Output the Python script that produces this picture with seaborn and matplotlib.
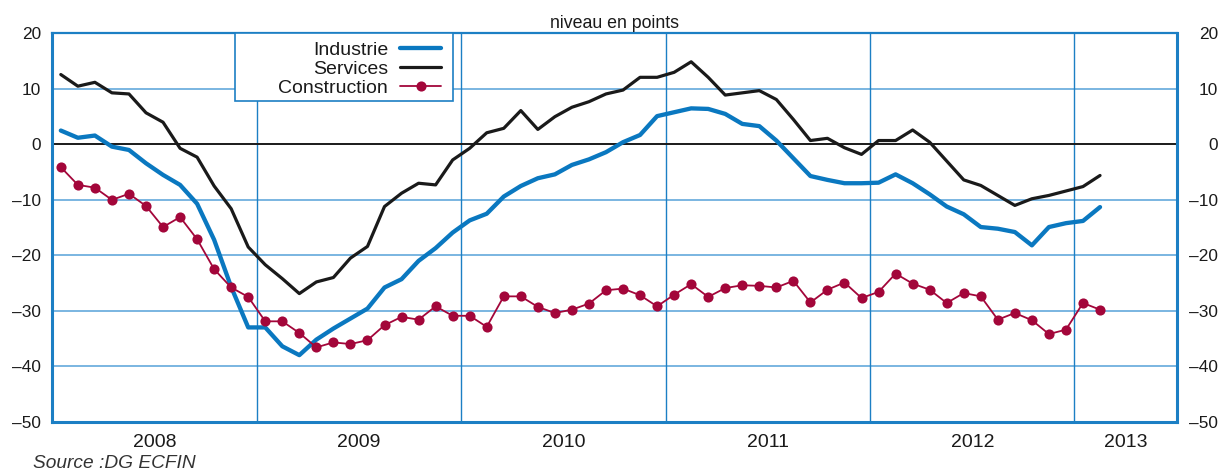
import numpy as np
import pandas as pd
import matplotlib
matplotlib.use("Agg")
import matplotlib.pyplot as plt
import seaborn as sns
from matplotlib.lines import Line2D
from matplotlib.patches import Rectangle
from matplotlib.transforms import ScaledTranslation

# ---- data (monthly, Jan 2008 .. Feb 2013) ----
start_year = 2008
n_months = 62
industrie = [2.5, 1.2, 1.6, -0.4, -1.0, -3.4, -5.5, -7.3, -10.7, -17.2, -25.7, -33.0,
             -33.0, -36.4, -38.0, -35.2, -33.2, -31.4, -29.6, -25.8, -24.3, -21.0, -18.7, -15.9,
             -13.7, -12.5, -9.4, -7.5, -6.1, -5.4, -3.7, -2.7, -1.4, 0.4, 1.7, 5.1,
             5.8, 6.5, 6.4, 5.5, 3.7, 3.3, 0.7, -2.5, -5.7, -6.4, -7.0, -7.0,
             -6.9, -5.4, -7.0, -9.0, -11.2, -12.6, -14.9, -15.2, -15.8, -18.2, -14.9, -14.2,
             -13.8, -11.3]
services = [12.6, 10.5, 11.2, 9.3, 9.1, 5.7, 4.0, -0.7, -2.3, -7.5, -11.6, -18.5,
            -21.7, -24.2, -26.9, -24.8, -24.0, -20.5, -18.4, -11.2, -8.8, -7.0, -7.3, -2.8,
            -0.7, 2.1, 2.9, 6.1, 2.7, 5.0, 6.7, 7.7, 9.1, 9.8, 12.1, 12.1,
            13.0, 14.9, 12.1, 8.9, 9.3, 9.7, 8.1, 4.5, 0.7, 1.1, -0.6, -1.8,
            0.7, 0.7, 2.6, 0.4, -3.0, -6.4, -7.4, -9.2, -11.0, -9.8, -9.2, -8.4,
            -7.6, -5.6]
construction = [-4.1, -7.3, -7.8, -10.0, -8.9, -11.1, -14.9, -13.1, -17.1, -22.5, -25.8, -27.5,
                -31.9, -31.9, -34.0, -36.6, -35.7, -36.0, -35.3, -32.6, -31.1, -31.6, -29.2, -30.9,
                -30.9, -32.9, -27.4, -27.4, -29.3, -30.4, -29.8, -28.7, -26.3, -26.0, -27.2, -29.2,
                -27.1, -25.2, -27.5, -25.9, -25.4, -25.5, -25.8, -24.6, -28.5, -26.2, -24.9, -27.7,
                -26.6, -23.3, -25.1, -26.2, -28.6, -26.8, -27.4, -31.6, -30.4, -31.7, -34.2, -33.4,
                -28.6, -29.8]
year_labels = ["2008", "2009", "2010", "2011", "2012", "2013"]
y_ticks = [20, 10, 0, -10, -20, -30, -40, -50]
series_names = ["Industrie", "Services", "Construction"]

# month centres in decimal years
t = [start_year + (i + 0.5) / 12 for i in range(n_months)]
df = pd.DataFrame({"t": t, "Industrie": industrie, "Services": services,
                   "Construction": construction})

sns.set_theme(style="white")
plt.rcParams["font.family"] = ["Liberation Sans", "DejaVu Sans"]

BLUE = "#0a78c0"
GRID = "#6fb0de"
SPINE = "#1c7fc4"
CRIMSON = "#a3063a"
INK = "#1a1a1a"

fig = plt.figure(figsize=(12.2, 4.73), dpi=100)
ax = fig.add_axes([52.3 / 1220, 1 - 421.7 / 473, (1176.7 - 52.3) / 1220, (421.7 - 33.5) / 473])

# grid
for yv in y_ticks[1:-1]:
    if yv != 0:
        ax.axhline(yv, color=GRID, lw=1.3, zorder=1)
for yr in range(2009, 2014):
    ax.axvline(yr, color=SPINE, lw=1.0, zorder=1)
ax.axhline(0, color=INK, lw=1.4, zorder=2)

sns.lineplot(data=df, x="t", y="Industrie", ax=ax, color=BLUE, lw=3.1, zorder=4)
sns.lineplot(data=df, x="t", y="Services", ax=ax, color=INK, lw=2.3, zorder=5)
sns.lineplot(data=df, x="t", y="Construction", ax=ax, color=CRIMSON, lw=1.3,
             marker="o", markersize=7.3, markeredgewidth=0, zorder=6)

ax.set_xlim(2008, 2013.5)
ax.set_ylim(-50, 20)
ax.set_xlabel("")
ax.set_ylabel("")

# x ticks: year boundaries (no labels) + mid-year labels
ax.set_xticks(range(2009, 2014))
ax.set_xticklabels([])
mids = [2008.5, 2009.5, 2010.5, 2011.5, 2012.5, 2013.25]
ax.set_xticks(mids, minor=True)
ax.set_xticklabels(year_labels, minor=True)
ax.tick_params(axis="x", which="both", length=0, pad=8.5, labelsize=14, colors=INK)

ax.set_yticks(y_ticks)
ax.set_yticklabels([f"{v}".replace("-", "\u2013") for v in y_ticks])
ax.tick_params(axis="y", length=0, pad=8, labelsize=12.4, colors=INK,
               left=True, right=True, labelleft=True, labelright=True)

for side in ["left", "right", "bottom"]:
    ax.spines[side].set_color(SPINE)
    ax.spines[side].set_linewidth(2.2)
ax.spines["top"].set_color(SPINE)
ax.spines["top"].set_linewidth(1.6)

ax.set_title("niveau en points", fontsize=12.8, pad=4, color=INK)

# legend box
x0 = (235 - 52.3) / 1124.4
x1 = (453 - 52.3) / 1124.4
yb = (421.7 - 101) / 388.2
ax.add_patch(Rectangle((x0, yb), x1 - x0, 1 - yb, transform=ax.transAxes,
                       facecolor="white", edgecolor=SPINE, lw=1.2, zorder=7))
handles = [Line2D([], [], color=BLUE, lw=3.1),
           Line2D([], [], color=INK, lw=2.3),
           Line2D([], [], color=CRIMSON, lw=1.3, marker="o", markersize=7.3, markeredgewidth=0)]
leg = ax.legend(handles, series_names, loc="upper right",
                bbox_to_anchor=((441 - 52.3) / 1124.4, 0.979), borderaxespad=0,
                borderpad=0, frameon=False, markerfirst=False, fontsize=14,
                handlelength=2.1, handletextpad=0.62, labelspacing=0.07)
leg.set_zorder(8)
for txt in leg.get_texts():
    txt.set_color(INK)

fig.text(33 / 1220, 1 - 463 / 473, "Source :DG ECFIN", fontsize=13.8, style="italic",
         color="#333333", va="center", ha="left")

# right-hand tick labels right-aligned at x ~1218 px
fig.canvas.draw()
off = ScaledTranslation((1218 - 1176.7 - 8 * 100 / 72) / 100, 0, fig.dpi_scale_trans)
for tk in ax.yaxis.get_major_ticks():
    tk.label2.set_transform(tk.label2.get_transform() + off)
    tk.label2.set_horizontalalignment("right")

fig.savefig("out.png", dpi=100)
